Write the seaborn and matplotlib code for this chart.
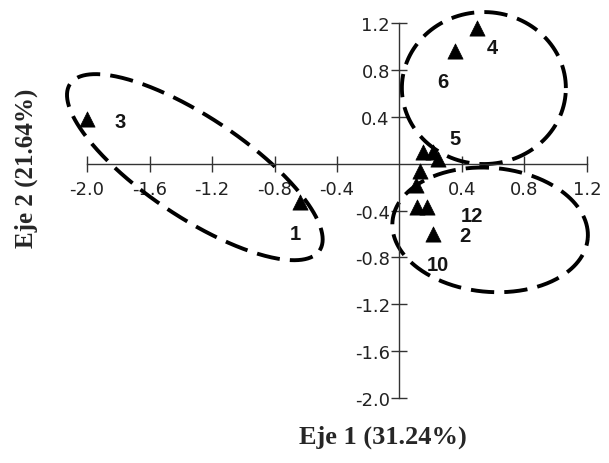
import numpy as np
import pandas as pd
import matplotlib
matplotlib.use("Agg")
import matplotlib.pyplot as plt
import seaborn as sns

# ---- data ----
labels = ["1", "2", "3", "4", "5", "6", "7", "8", "9", "10", "11", "12"]
eje1 = [-0.64, 0.215, -2.00, 0.495, 0.215, 0.355, 0.245, 0.15, 0.13, 0.11, 0.105, 0.175]
eje2 = [-0.33, -0.60, 0.38, 1.16, 0.10, 0.96, 0.04, 0.10, -0.06, -0.37, -0.18, -0.37]
shown_labels = ["1", "2", "3", "4", "5", "6", "", "", "", "10", "", "12"]
xticks = [-2.0, -1.6, -1.2, -0.8, -0.4, 0.4, 0.8, 1.2]
yticks = [-2.0, -1.6, -1.2, -0.8, -0.4, 0.4, 0.8, 1.2]
xlabel = "Eje 1 (31.24%)"
ylabel = "Eje 2 (21.64%)"

# label offsets (pixels) from each point
label_offsets = [(-4, -31), (32, -2), (33, -2), (15, -20), (22, 13), (-12, -30),
                 (0, 0), (0, 0), (0, 0), (21, -57), (0, 0), (45, -8)]

# group ellipses: center (data), semi-axes (pixels), angle (deg)
groups = [((-1.31, -0.03), 150, 50, -33.7),
          ((0.54, 0.645), 82, 76, 0.0),
          ((0.58, -0.565), 98, 62, -5.0)]

df = pd.DataFrame({"Eje1": eje1, "Eje2": eje2, "lab": labels})

sns.set_style("white")
plt.rcParams["axes.unicode_minus"] = False

W, H = 609, 464
fig = plt.figure(figsize=(W / 100, H / 100), dpi=100)
xlim = (-2.15, 1.30)
ylim = (-2.05, 1.30)
left_px, right_px = 63.6, 602.6
top_px, bottom_px = 12.3, 404.9
ax = fig.add_axes([left_px / W, 1 - bottom_px / H,
                   (right_px - left_px) / W, (bottom_px - top_px) / H])
ax.set_xlim(*xlim)
ax.set_ylim(*ylim)

sns.scatterplot(data=df, x="Eje1", y="Eje2", marker="^", s=120, color="black",
                edgecolor="black", linewidth=0.5, ax=ax, zorder=3, legend=False)

for lab, x, y, off in zip(shown_labels, eje1, eje2, label_offsets):
    if lab:
        ax.annotate(lab, (x, y), xytext=off, textcoords="offset pixels",
                    ha="center", va="center", fontsize=14.5, fontweight="bold",
                    family="Liberation Sans", color="#151515", zorder=4)

# dashed ellipses drawn in pixel space
sx = (right_px - left_px) / (xlim[1] - xlim[0])
sy = (bottom_px - top_px) / (ylim[1] - ylim[0])
t = np.linspace(0, 2 * np.pi, 400)
for (cx, cy), a, b, ang in groups:
    th = np.deg2rad(ang)
    dx = a * np.cos(t) * np.cos(th) - b * np.sin(t) * np.sin(th)
    dy = a * np.cos(t) * np.sin(th) + b * np.sin(t) * np.cos(th)
    ax.plot(cx + dx / sx, cy + dy / sy, color="black", lw=2.8,
            linestyle=(0, (6, 2.6)), clip_on=False, zorder=2,
            solid_capstyle="butt", dash_capstyle="butt")

# centred axes
for s in ["top", "right"]:
    ax.spines[s].set_visible(False)
ax.spines["left"].set_position(("data", 0))
ax.spines["bottom"].set_position(("data", 0))
ax.spines["left"].set_bounds(-2.0, 1.2)
ax.spines["bottom"].set_bounds(-2.0, 1.2)
for s in ["left", "bottom"]:
    ax.spines[s].set_color("#333333")
    ax.spines[s].set_linewidth(1.0)
ax.set_xticks(xticks)
ax.set_yticks(yticks)
ax.set_xticklabels([f"{v:.1f}" for v in xticks])
ax.set_yticklabels([f"{v:.1f}" for v in yticks])
ax.tick_params(axis="both", direction="inout", length=11, width=1.0,
               color="#333333", labelsize=13, labelcolor="#222222",
               bottom=True, left=True)
ax.tick_params(axis="x", pad=6)
ax.tick_params(axis="y", pad=1.5)
for lbl in ax.get_xticklabels() + ax.get_yticklabels():
    lbl.set_family("DejaVu Sans")
ax.set_xlabel("")
ax.set_ylabel("")
ax.grid(False)

fig.text(383 / W, 1 - 437 / H, xlabel, ha="center", va="center",
         family="Liberation Serif", fontweight="bold", fontsize=19)
fig.text(26 / W, 1 - 168 / H, ylabel, ha="center", va="center", rotation=90,
         family="Liberation Serif", fontweight="bold", fontsize=18)

fig.savefig("out.png", dpi=100)
